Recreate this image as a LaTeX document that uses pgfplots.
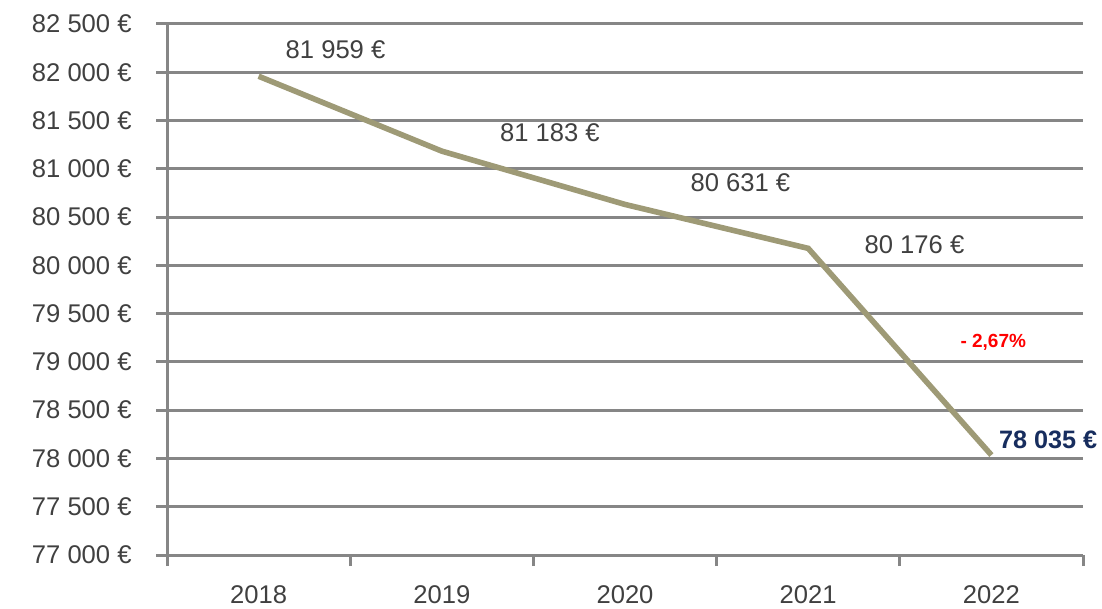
\documentclass[border=0pt]{standalone}
\usepackage{fontspec}
\setmainfont{Liberation Sans}
\usepackage{pgfplots}
\pgfplotsset{compat=1.18}
\definecolor{gridgray}{RGB}{134,134,134}
\definecolor{olivel}{RGB}{158,154,118}
\definecolor{txt}{RGB}{64,64,64}
\definecolor{navy}{RGB}{23,45,94}
\begin{document}
\begin{tikzpicture}
\begin{axis}[
  scale only axis, width=458pt, height=265.5pt,
  xmin=-0.5, xmax=4.5, ymin=77000, ymax=82500,
  scaled y ticks=false,
  axis x line*=bottom, axis y line*=left,
  axis line style={draw=gridgray, line width=1.5pt},
  tick align=outside,
  xtick={0,1,2,3,4}, xticklabels={2018,2019,2020,2021,2022},
  major x tick style={draw=none},
  minor xtick={-0.5,0.5,1.5,2.5,3.5,4.5},
  minor x tick style={draw=gridgray, line width=1.5pt},
  minor tick length=5.5pt, major tick length=5.5pt,
  ytick={77000,77500,...,82500},
  yticklabels={77 000 €,77 500 €,78 000 €,78 500 €,79 000 €,79 500 €,80 000 €,80 500 €,81 000 €,81 500 €,82 000 €,82 500 €},
  major y tick style={draw=gridgray, line width=1.5pt},
  ymajorgrids, grid style={gridgray, line width=1.5pt},
  ticklabel style={font=\fontsize{12.8}{14}\selectfont, text=txt, inner sep=0pt},
  yticklabel style={anchor=east, xshift=-12pt},
  xticklabel style={anchor=north, yshift=-9.5pt},
  clip=false,
]
\addplot[olivel, line width=2.8pt, no markers] coordinates {
  (0,81959) (1,81183) (2,80631) (3,80176) (4,78035)
};
\begin{scope}[font=\fontsize{12.8}{14}\selectfont]
\node[text=txt] at (axis cs:0.42,82231) {81 959 €};
\node[text=txt] at (axis cs:1.59,81370) {81 183 €};
\node[text=txt] at (axis cs:2.63,80852) {80 631 €};
\node[text=txt] at (axis cs:3.58,80210) {80 176 €};
\node[text=navy, font=\fontsize{12.6}{14}\selectfont\bfseries] at (axis cs:4.31,78189) {78 035 €};
\end{scope}
\node[text=red, font=\fontsize{9.5}{11}\selectfont\bfseries] at (axis cs:4.01,79205) {- 2,67\%};
\coordinate (ll) at (rel axis cs:0,0);
\coordinate (ur) at (rel axis cs:1,1);
\end{axis}
\pgfresetboundingbox
\path ([xshift=-83.5pt,yshift=-26.5pt]ll) rectangle ([xshift=9.5pt,yshift=12pt]ur);
\end{tikzpicture}
\end{document}
